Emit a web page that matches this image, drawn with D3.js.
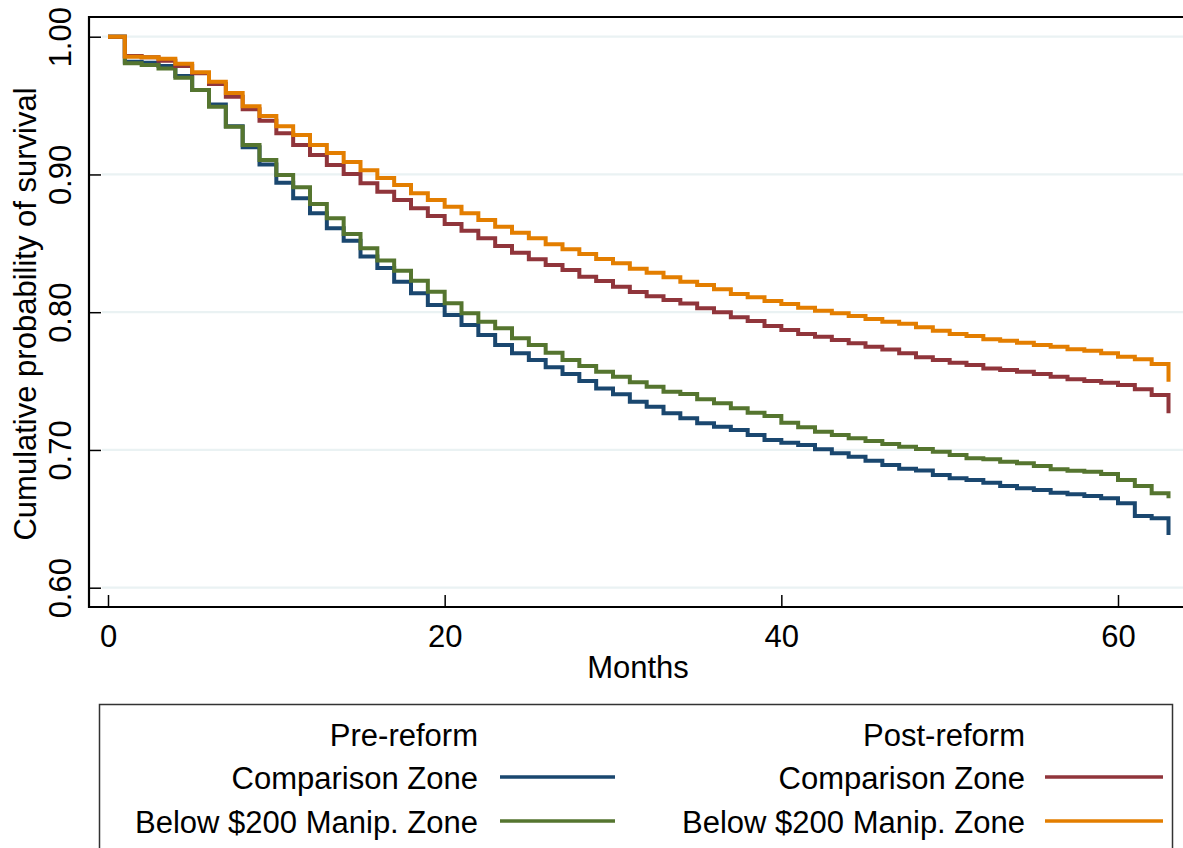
<!DOCTYPE html>
<html>
<head>
<meta charset="utf-8">
<script src="https://cdn.jsdelivr.net/npm/d3@7"></script>
<style>
  html, body { margin: 0; padding: 0; background: #fff; }
  svg { display: block; }
  text { font-family: "Liberation Sans", Arial, Helvetica, sans-serif; fill: #000; }
</style>
</head>
<body>
<svg id="chart" width="1183" height="848"></svg>
<script>
// ---- data ----
const months = d3.range(0, 64);
const preComparison = [1.0, 0.9819, 0.9811, 0.9787, 0.9715, 0.9613, 0.9507, 0.9350, 0.9197, 0.9072,
  0.8940, 0.8827, 0.8718, 0.8609, 0.8519, 0.8405, 0.8320, 0.8221, 0.8137, 0.8052,
  0.7980, 0.7907, 0.7834, 0.7762, 0.7702, 0.7653, 0.7600, 0.7551, 0.7500, 0.7447,
  0.7404, 0.7350, 0.7314, 0.7266, 0.7230, 0.7193, 0.7169, 0.7145, 0.7109, 0.7072,
  0.7053, 0.7036, 0.7005, 0.6976, 0.6951, 0.6922, 0.6891, 0.6863, 0.6850, 0.6818,
  0.6794, 0.6782, 0.6762, 0.6738, 0.6722, 0.6710, 0.6690, 0.6678, 0.6666, 0.6649,
  0.6613, 0.6521, 0.6504, 0.6383];
const preManip = [1.0, 0.9807, 0.9795, 0.9770, 0.9702, 0.9613, 0.9492, 0.9347, 0.9214, 0.9105,
  0.8996, 0.8907, 0.8786, 0.8682, 0.8568, 0.8464, 0.8375, 0.8301, 0.8229, 0.8149,
  0.8065, 0.7992, 0.7931, 0.7883, 0.7810, 0.7762, 0.7706, 0.7653, 0.7609, 0.7568,
  0.7532, 0.7492, 0.7459, 0.7423, 0.7406, 0.7368, 0.7339, 0.7302, 0.7270, 0.7247,
  0.7198, 0.7164, 0.7133, 0.7109, 0.7085, 0.7065, 0.7043, 0.7024, 0.7006, 0.6987,
  0.6963, 0.6939, 0.6932, 0.6915, 0.6903, 0.6883, 0.6859, 0.6849, 0.6842, 0.6825,
  0.6782, 0.6738, 0.6685, 0.6649];
const postComparison = [1.0, 0.9860, 0.9850, 0.9826, 0.9787, 0.9734, 0.9657, 0.9564, 0.9473, 0.9390,
  0.9299, 0.9214, 0.9141, 0.9069, 0.9003, 0.8936, 0.8875, 0.8814, 0.8754, 0.8698,
  0.8640, 0.8592, 0.8536, 0.8480, 0.8432, 0.8384, 0.8343, 0.8306, 0.8258, 0.8227,
  0.8185, 0.8147, 0.8115, 0.8089, 0.8064, 0.8028, 0.7999, 0.7963, 0.7936, 0.7900,
  0.7871, 0.7842, 0.7822, 0.7798, 0.7774, 0.7750, 0.7730, 0.7702, 0.7673, 0.7653,
  0.7633, 0.7617, 0.7592, 0.7580, 0.7568, 0.7551, 0.7532, 0.7513, 0.7500, 0.7488,
  0.7472, 0.7440, 0.7399, 0.7266];
const postManip = [1.0, 0.9855, 0.9850, 0.9840, 0.9803, 0.9742, 0.9673, 0.9591, 0.9495, 0.9424,
  0.9350, 0.9286, 0.9214, 0.9155, 0.9090, 0.9030, 0.8975, 0.8923, 0.8863, 0.8814,
  0.8766, 0.8718, 0.8669, 0.8621, 0.8577, 0.8536, 0.8493, 0.8457, 0.8422, 0.8386,
  0.8355, 0.8315, 0.8287, 0.8253, 0.8221, 0.8197, 0.8166, 0.8132, 0.8108, 0.8081,
  0.8060, 0.8033, 0.8011, 0.7992, 0.7972, 0.7950, 0.7931, 0.7917, 0.7890, 0.7866,
  0.7842, 0.7827, 0.7803, 0.7793, 0.7779, 0.7762, 0.7750, 0.7731, 0.7721, 0.7702,
  0.7677, 0.7658, 0.7624, 0.7496];
const xTicks = [0, 20, 40, 60];
const yTicks = [0.60, 0.70, 0.80, 0.90, 1.00];
const seriesNames = ["Comparison Zone", "Below $200 Manip. Zone", "Comparison Zone", "Below $200 Manip. Zone"];
const groupTitles = ["Pre-reform", "Post-reform"];
const colors = ["#1a476f", "#55752f", "#90353b", "#e37e00"];

// ---- layout ----
const svg = d3.select("#chart");
const W = 1183;
const frame = { left: 89, top: 17, bottom: 607 };
const x = d3.scaleLinear().domain([0, 60]).range([108, 1118]);
const y = d3.scaleLinear().domain([0.6, 1.0]).range([587.7, 36.7]);
const FS = 31;
const FF = '"Liberation Sans", Arial, Helvetica, sans-serif';

// gridlines
svg.append("g").selectAll("line").data(yTicks).join("line")
  .attr("x1", 102).attr("x2", W)
  .attr("y1", d => y(d)).attr("y2", d => y(d))
  .attr("stroke", "#eaf2f3").attr("stroke-width", 2.2);

// series
const series = [preComparison, preManip, postComparison, postManip];
const line = d3.line().x((d, i) => x(months[i])).y(d => y(d)).curve(d3.curveStepAfter);
svg.append("g").selectAll("path").data(series).join("path")
  .attr("d", d => line(d))
  .attr("fill", "none")
  .attr("stroke", (d, i) => colors[i])
  .attr("stroke-width", 4)
  .attr("stroke-linejoin", "miter");

// axes (ticks inward)
const xAxis = svg.append("g").attr("transform", `translate(0,${frame.bottom})`)
  .call(d3.axisBottom(x).tickValues(xTicks).tickSize(-12).tickFormat(d3.format("d")));
xAxis.select(".domain").remove();
xAxis.selectAll(".tick line").attr("stroke", "#000").attr("stroke-width", 1.5);
xAxis.selectAll(".tick text").attr("y", 0).attr("dy", null)
  .attr("transform", "translate(0,40)")
  .style("font-size", FS + "px").style("font-family", FF);

const yAxis = svg.append("g").attr("transform", `translate(${frame.left},0)`)
  .call(d3.axisLeft(y).tickValues(yTicks).tickSize(-12).tickFormat(d3.format(".2f")));
yAxis.select(".domain").remove();
yAxis.selectAll(".tick line").attr("stroke", "#000").attr("stroke-width", 1.5);
yAxis.selectAll(".tick text").attr("x", null).attr("dy", null).attr("y", null)
  .attr("text-anchor", "middle")
  .attr("transform", "translate(-18,0) rotate(-90)")
  .style("font-size", FS + "px").style("font-family", FF);

// frame
svg.append("path")
  .attr("d", `M${W + 5},${frame.top} H${frame.left} V${frame.bottom} H${W + 5}`)
  .attr("fill", "none").attr("stroke", "#000").attr("stroke-width", 2.2);

// axis titles
svg.append("text").attr("x", 638).attr("y", 678)
  .attr("text-anchor", "middle").style("font-size", FS + "px").text("Months");
svg.append("text").attr("transform", "translate(36,314) rotate(-90)")
  .attr("text-anchor", "middle").style("font-size", FS + "px").text("Cumulative probability of survival");

// legend
const lg = svg.append("g");
lg.append("rect").attr("x", 99.5).attr("y", 704.5).attr("width", 1073).attr("height", 200)
  .attr("fill", "#fff").attr("stroke", "#333").attr("stroke-width", 1.5);
const cols = [{ textX: 478, lx1: 500, lx2: 615 }, { textX: 1025, lx1: 1045, lx2: 1163 }];
const rowsBase = [746, 789, 833];
cols.forEach((c, ci) => {
  lg.append("text").attr("x", c.textX).attr("y", rowsBase[0]).attr("text-anchor", "end")
    .style("font-size", FS + "px").text(groupTitles[ci]);
  [0, 1].forEach(r => {
    const si = ci * 2 + r;
    lg.append("text").attr("x", c.textX).attr("y", rowsBase[r + 1]).attr("text-anchor", "end")
      .style("font-size", FS + "px").text(seriesNames[si]);
    lg.append("line").attr("x1", c.lx1).attr("x2", c.lx2)
      .attr("y1", rowsBase[r + 1] - 12).attr("y2", rowsBase[r + 1] - 12)
      .attr("stroke", colors[si]).attr("stroke-width", 3.5);
  });
});
</script>
</body>
</html>
